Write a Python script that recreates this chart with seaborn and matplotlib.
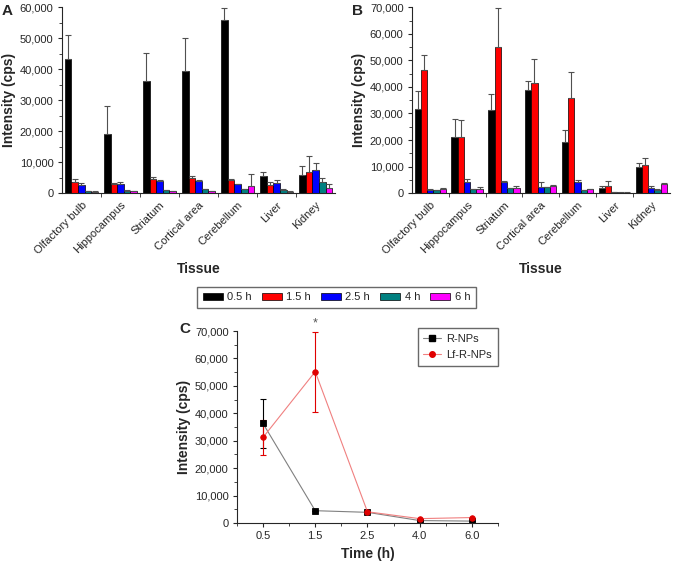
import numpy as np
import pandas as pd
import matplotlib
matplotlib.use("Agg")
import matplotlib.pyplot as plt
import seaborn as sns
from matplotlib.patches import Patch
from matplotlib.lines import Line2D
from matplotlib.ticker import MultipleLocator, FuncFormatter

# data
tissues = ["Olfactory bulb", "Hippocampus", "Striatum", "Cortical area", "Cerebellum", "Liver", "Kidney"]
times = ["0.5 h", "1.5 h", "2.5 h", "4 h", "6 h"]
colors = ["#000000", "#ff0000", "#0000ff", "#008080", "#ff00ff"]

# panel A (R-NPs), rows = tissue, cols = time
a_mean = [[43200, 3600, 2600, 700, 500],
          [19100, 2900, 2800, 800, 700],
          [36300, 4500, 3900, 900, 700],
          [39500, 4900, 3900, 1200, 700],
          [55900, 4200, 2900, 1200, 2200],
          [5600, 2500, 3300, 1100, 400],
          [6000, 6800, 7400, 3500, 1800]]
a_err = [[7800, 800, 600, 100, 100],
         [8900, 500, 700, 100, 100],
         [8900, 700, 300, 100, 100],
         [10600, 500, 300, 100, 100],
         [3900, 200, 200, 200, 3900],
         [1300, 1000, 800, 300, 300],
         [2700, 5100, 2300, 1500, 1000]]

# panel B (Lf-R-NPs)
b_mean = [[31600, 46400, 1200, 1000, 1600],
          [21000, 21200, 4000, 1400, 1600],
          [31200, 55200, 4100, 1800, 2000],
          [38700, 41500, 2400, 2200, 2800],
          [19400, 36000, 4200, 1200, 1400],
          [2000, 2700, 500, 200, 200],
          [9800, 10700, 2000, 1200, 3500]]
b_err = [[6900, 5500, 400, 200, 200],
         [7000, 6300, 1300, 200, 700],
         [6300, 14600, 500, 200, 600],
         [3600, 8900, 1800, 200, 200],
         [4400, 9500, 900, 100, 200],
         [600, 1900, 100, 50, 50],
         [1500, 2500, 700, 500, 300]]

# panel C (striatum over time)
time_labels = ["0.5", "1.5", "2.5", "4.0", "6.0"]
r_mean = [36300, 4500, 3900, 900, 700]
r_err = [8900, 0, 0, 0, 0]
lf_mean = [31200, 55200, 4100, 1600, 2000]
lf_err = [6300, 14600, 0, 0, 0]

sns.set_style("ticks")
plt.rcParams["font.family"] = ["Liberation Sans", "DejaVu Sans"]
plt.rcParams["axes.linewidth"] = 0.8

fig = plt.figure(figsize=(6.73, 5.63), dpi=100)
axA = fig.add_axes([0.092, 0.657, 0.406, 0.330])
axB = fig.add_axes([0.612, 0.657, 0.383, 0.330])
axC = fig.add_axes([0.352, 0.071, 0.388, 0.341])

thousands = FuncFormatter(lambda v, p: f"{int(v):,}")


def bar_panel(ax, mean, err, ymax):
    df = pd.DataFrame(mean, index=tissues, columns=times)
    long = df.reset_index().melt(id_vars="index", var_name="time", value_name="val")
    sns.barplot(data=long, x="index", y="val", hue="time", order=tissues, hue_order=times,
                palette=colors, saturation=1, width=0.85, errorbar=None, edgecolor="black",
                linewidth=0.5, ax=ax, legend=False)
    # upward error bars on top of each bar
    conts = list(ax.containers)
    for j, cont in enumerate(conts):
        for i, bar in enumerate(cont.patches):
            x = bar.get_x() + bar.get_width() / 2
            ax.errorbar(x, mean[i][j], yerr=[[0], [err[i][j]]], fmt="none",
                        ecolor="#505050", elinewidth=0.8, capsize=2, capthick=0.8)
    ax.set_ylim(0, ymax)
    ax.set_xlim(-0.5, len(tissues) - 0.5)
    ax.yaxis.set_major_locator(MultipleLocator(10000))
    ax.yaxis.set_minor_locator(MultipleLocator(5000))
    ax.yaxis.set_major_formatter(thousands)
    ax.set_xticks(range(len(tissues)))
    ax.set_xticklabels(tissues, rotation=45, ha="right", rotation_mode="anchor")
    ax.set_xticks(np.arange(0.5, len(tissues) - 0.5, 1), minor=True)
    ax.tick_params(axis="x", which="major", length=0, labelsize=8, pad=5)
    ax.tick_params(axis="x", which="minor", length=3, width=0.6)
    ax.tick_params(axis="y", which="major", length=3, width=0.8, labelsize=8, pad=3)
    ax.tick_params(axis="y", which="minor", length=2, width=0.6)
    ax.set_xlabel("Tissue", fontsize=10, fontweight="bold", labelpad=4)
    ax.set_ylabel("Intensity (cps)", fontsize=10, fontweight="bold", labelpad=3)
    sns.despine(ax=ax)


bar_panel(axA, a_mean, a_err, 60000)
bar_panel(axB, b_mean, b_err, 70000)

handles = [Patch(facecolor=c, edgecolor="black", linewidth=0.5, label=t) for c, t in zip(colors, times)]
fig.legend(handles=handles, loc="center", bbox_to_anchor=(0.50, 0.472), ncol=5, fontsize=8,
           frameon=True, fancybox=False, edgecolor="#444444", handlelength=1.8, handleheight=0.6,
           columnspacing=0.9, handletextpad=0.4, borderpad=0.5)

# panel C
dfc = pd.DataFrame({"time": time_labels * 2,
                    "val": r_mean + lf_mean,
                    "series": ["R-NPs"] * 5 + ["Lf-R-NPs"] * 5})
sns.pointplot(data=dfc, x="time", y="val", hue="series", order=time_labels,
              hue_order=["R-NPs", "Lf-R-NPs"], palette=["#808080", "#f08080"],
              markers=["s", "o"], linestyles=["-", "-"], errorbar=None,
              markersize=4, linewidth=0.8, ax=axC, legend=False)
lines = [l for l in axC.lines if len(l.get_xdata()) == len(time_labels)]
mcol = ["black", "#e00000"]
for l, mc, mean, err in zip(lines, mcol, [r_mean, lf_mean], [r_err, lf_err]):
    l.set_markerfacecolor(mc)
    l.set_markeredgecolor(mc)
    xs = l.get_xdata()
    axC.errorbar(xs, mean, yerr=err, fmt="none", ecolor=mc, elinewidth=0.8,
                 capsize=2.5, capthick=0.8, zorder=1)
axC.text(1, 70500, "*", ha="center", va="bottom", fontsize=9, color="#555555")
axC.set_xlim(-0.5, len(time_labels) - 0.5)
axC.set_ylim(0, 70000)
axC.yaxis.set_major_locator(MultipleLocator(10000))
axC.yaxis.set_minor_locator(MultipleLocator(5000))
axC.yaxis.set_major_formatter(thousands)
axC.set_xticks(np.arange(-0.5, len(time_labels), 1), minor=True)
axC.tick_params(axis="both", which="major", length=3, width=0.8, labelsize=8, pad=3)
axC.tick_params(axis="both", which="minor", length=2, width=0.6)
axC.set_xlabel("Time (h)", fontsize=10, fontweight="bold", labelpad=4)
axC.set_ylabel("Intensity (cps)", fontsize=10, fontweight="bold", labelpad=3)
sns.despine(ax=axC)

leg_h = [Line2D([], [], color="#808080", lw=0.8, marker="s", markersize=4,
                markerfacecolor="black", markeredgecolor="black", label="R-NPs"),
         Line2D([], [], color="#f08080", lw=0.8, marker="o", markersize=4,
                markerfacecolor="#e00000", markeredgecolor="#e00000", label="Lf-R-NPs")]
axC.legend(handles=leg_h, loc="upper right", bbox_to_anchor=(1.02, 1.045), fontsize=8,
           frameon=True, fancybox=False, edgecolor="#444444", handlelength=1.6,
           handletextpad=0.5, borderpad=0.5, labelspacing=0.6)

for lab, x, y in [("A", 0.003, 0.993), ("B", 0.523, 0.993), ("C", 0.266, 0.428)]:
    fig.text(x, y, lab, fontsize=11, fontweight="bold", ha="left", va="top")

fig.savefig("out.png", dpi=100)
